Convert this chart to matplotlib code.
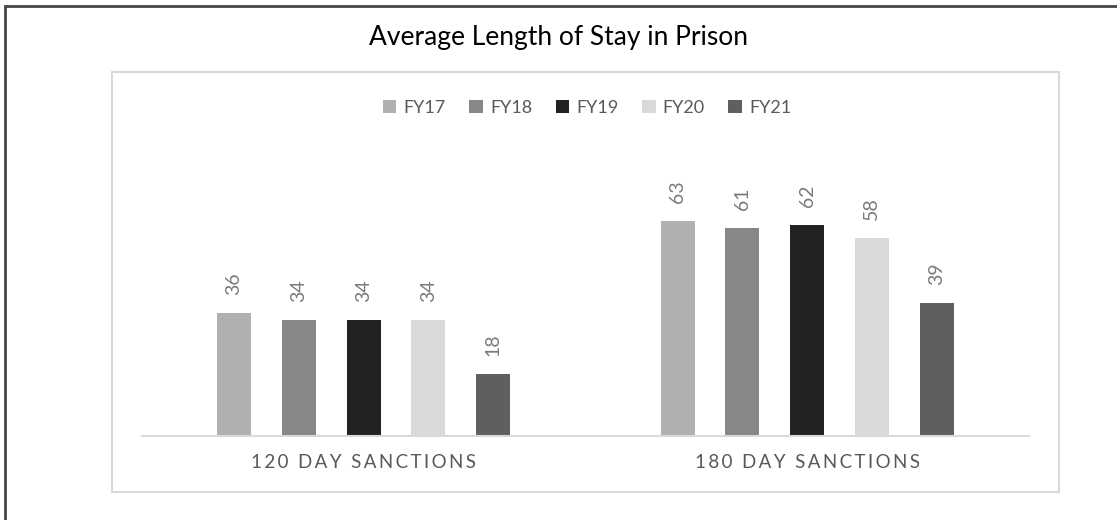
import numpy as np
import matplotlib.pyplot as plt
from matplotlib.patches import Rectangle

plt.rcParams['font.family'] = ['Lato', 'DejaVu Sans']

categories = ['120 DAY SANCTIONS', '180 DAY SANCTIONS']
years = ['FY17', 'FY18', 'FY19', 'FY20', 'FY21']
values = {
    'FY17': [36, 63],
    'FY18': [34, 61],
    'FY19': [34, 62],
    'FY20': [34, 58],
    'FY21': [18, 39],
}
colors = ['#b0b0b0', '#878787', '#222222', '#d9d9d9', '#5f5f5f']

W, H = 1117, 520
fig = plt.figure(figsize=(W / 100, H / 100), dpi=100)

# frame around the whole chart (only top/left fall inside the canvas)
fig.patches.append(Rectangle((4.5 / W, -0.1), 1.2, 1.1 - 6.5 / H, transform=fig.transFigure,
                             fill=False, edgecolor='#454545', linewidth=2))
# light plot-area box
fig.patches.append(Rectangle((112 / W, 1 - 492 / H), 947 / W, 420 / H, transform=fig.transFigure,
                             fill=False, edgecolor='#d9d9d9', linewidth=1.5))

ax = fig.add_axes([141.7 / W, 1 - 435.5 / H, 887.3 / W, 238 / H])
x = np.arange(len(categories))
step = 0.1459
width = 0.0767
for j, yr in enumerate(years):
    bars = ax.bar(x + (j - 2) * step, values[yr], width, color=colors[j], label=yr, zorder=2)
    for b, v in zip(bars, values[yr]):
        ax.annotate(str(v), (b.get_x() + b.get_width() / 2, v), xytext=(0, 13),
                    textcoords='offset points', rotation=90, ha='center', va='bottom',
                    fontsize=14, color='#7a7a7a')

ax.set_xlim(-0.5, 1.5)
ax.set_ylim(0, 70)
for s in ['top', 'right', 'left']:
    ax.spines[s].set_visible(False)
ax.spines['bottom'].set_color('#d9d9d9')
ax.spines['bottom'].set_linewidth(1.5)
ax.set_yticks([])
ax.set_xticks(x)
ax.set_xticklabels(['\u2009'.join(c) for c in categories], fontsize=13.5, color='#595959')
ax.tick_params(axis='x', length=0, pad=13)

fig.text(0.5, 1 - 38 / H, 'Average Length of Stay in Prison', ha='center', va='center',
         fontsize=19, color='#000000')

fig.legend(loc='center', bbox_to_anchor=(587 / W, 1 - 108 / H), ncol=5, frameon=False,
           fontsize=13, labelcolor='#595959', handlelength=0.75, handleheight=0.75,
           handletextpad=0.4, columnspacing=1.3)

fig.savefig('out.png', dpi=100)
